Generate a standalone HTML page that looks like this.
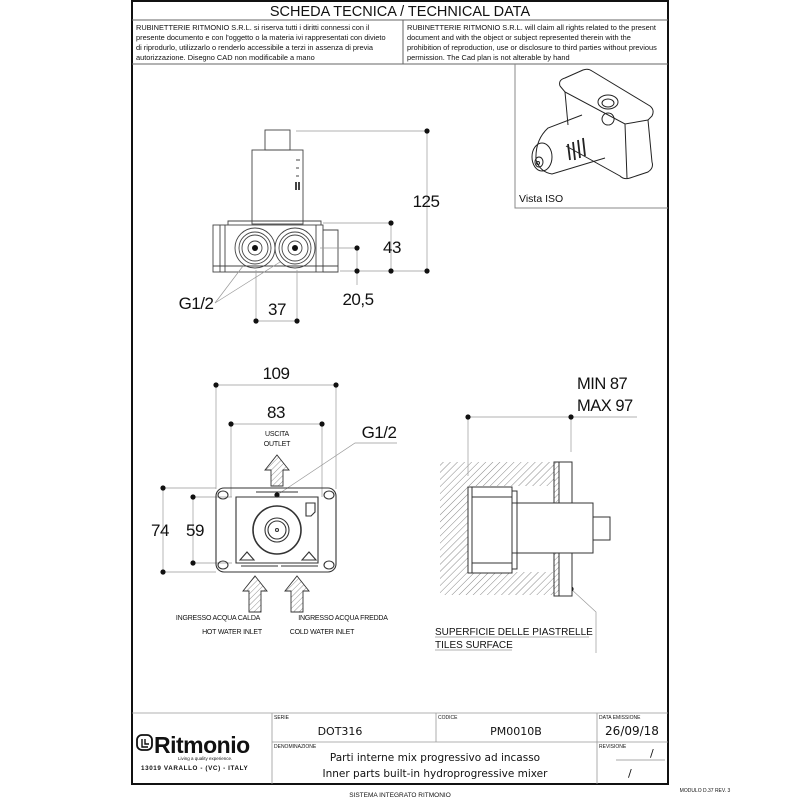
<!DOCTYPE html>
<html><head><meta charset="utf-8"><style>
html,body{margin:0;padding:0;background:#fff}
svg{display:block}
text{font-family:"Liberation Sans",sans-serif;fill:#111}
</style></head><body>
<svg width="800" height="800" viewBox="0 0 800 800" xmlns="http://www.w3.org/2000/svg">
<defs>
<pattern id="h" width="5" height="5" patternUnits="userSpaceOnUse" patternTransform="rotate(45)">
<line x1="0" y1="0" x2="0" y2="5" stroke="#888" stroke-width="1"/></pattern>
<pattern id="h2" width="4" height="4" patternUnits="userSpaceOnUse" patternTransform="rotate(45)">
<line x1="0" y1="0" x2="0" y2="4" stroke="#777" stroke-width="0.8"/></pattern>
</defs>
<!-- frame -->
<rect x="132" y="1" width="536" height="783" fill="none" stroke="#111" stroke-width="2"/>
<line x1="132" y1="20" x2="668" y2="20" stroke="#666"/>
<line x1="132" y1="64" x2="668" y2="64" stroke="#666"/>
<line x1="403" y1="20" x2="403" y2="64" stroke="#666"/>
<text x="400" y="16" font-size="14.5" text-anchor="middle">SCHEDA TECNICA / TECHNICAL DATA</text>
<g font-size="7.4">
<text x="136" y="30">RUBINETTERIE RITMONIO S.R.L. si riserva tutti i diritti connessi con il</text>
<text x="136" y="40">presente documento e con l'oggetto o la materia ivi rappresentati con divieto</text>
<text x="136" y="50">di riprodurlo, utilizzarlo o renderlo accessibile a terzi in assenza di previa</text>
<text x="136" y="60">autorizzazione. Disegno CAD non modificabile a mano</text>
<text x="407" y="30">RUBINETTERIE RITMONIO S.R.L. will claim all rights related to the present</text>
<text x="407" y="40">document and with the object or subject represented therein with the</text>
<text x="407" y="50">prohibition  of reproduction, use or disclosure to third parties without previous</text>
<text x="407" y="60">permission.  The Cad plan is not alterable by hand</text>
</g>
<!-- vista iso box -->
<polyline points="515,64 515,208 668,208" fill="none" stroke="#888"/>
<text x="519" y="202" font-size="10.5">Vista ISO</text>
<g fill="none" stroke="#222" stroke-width="1">
<path d="M560,86 Q558,80 565,78 L583,70 Q588,68 592,71 L650,106 Q655,110 652,116 L648,120 L652,162 Q654,168 648,172 L630,178 Q624,180 620,176 L566,146"/>
<path d="M560,86 L565,92 L625,124 L648,120 M625,124 L627,178"/>
<path d="M565,92 L568,125"/>
<ellipse cx="608" cy="102" rx="10" ry="7"/><ellipse cx="608" cy="103" rx="6" ry="4"/>
<path d="M582,115 L548,128 Q535,140 536,160 Q540,172 552,174 L605,158"/>
<ellipse cx="542" cy="157" rx="10" ry="14"/>
<ellipse cx="539" cy="162" rx="4" ry="5"/>
<circle cx="538" cy="163" r="1.5"/>
<path d="M568,144 l2,16 M573,142 l2,18 M578,140 l2,18 M583,138 l2,18" stroke-width="1.8"/>
<path d="M608,125 a6,6 0 1 1 0.1,0"/>
</g>
<!-- top elevation -->
<g fill="none" stroke="#444" stroke-width="0.9">
<rect x="265" y="130" width="25" height="20"/>
<rect x="252" y="150" width="51" height="74"/>
<path d="M296,160h4 M296,168h3 M296,176h3"/>
<path d="M296,182v8 M299,182v8" stroke-width="2"/>
<rect x="213" y="225" width="110" height="47"/>
<path d="M228,225v-4h93v4 M323,230h15v42h-15 M220,225v47 M225,225v47 M316,225v47 M213,266h125"/>
<circle cx="255" cy="248" r="20"/><circle cx="255" cy="248" r="16"/><circle cx="255" cy="248" r="13"/><circle cx="255" cy="248" r="7"/>
<circle cx="295" cy="248" r="20"/><circle cx="295" cy="248" r="16"/><circle cx="295" cy="248" r="13"/><circle cx="295" cy="248" r="7"/>
</g>
<circle cx="255" cy="248" r="3" fill="#111"/><circle cx="295" cy="248" r="3" fill="#111"/>
<g stroke="#999" stroke-width="0.7" fill="none">
<line x1="296" y1="131" x2="427" y2="131"/><line x1="427" y1="131" x2="427" y2="271"/>
<line x1="323" y1="223" x2="391" y2="223"/><line x1="391" y1="223" x2="391" y2="271"/>
<line x1="340" y1="271" x2="427" y2="271"/>
<line x1="320" y1="248" x2="357" y2="248"/><line x1="357" y1="248" x2="357" y2="285"/>
<line x1="256" y1="270" x2="256" y2="321"/><line x1="297" y1="270" x2="297" y2="321"/><line x1="256" y1="321" x2="297" y2="321"/>
<polyline points="215,303 243,266"/><polyline points="215,303 280,262"/>
</g>
<g fill="#111"><circle cx="427" cy="131" r="2.6"/><circle cx="427" cy="271" r="2.6"/><circle cx="391" cy="223" r="2.6"/><circle cx="391" cy="271" r="2.6"/><circle cx="357" cy="248" r="2.6"/><circle cx="357" cy="271" r="2.6"/><circle cx="256" cy="321" r="2.6"/><circle cx="297" cy="321" r="2.6"/></g>
<g font-size="17" text-anchor="middle" style="letter-spacing:-0.5px">
<text x="426" y="207">125</text><text x="392" y="253">43</text><text x="358" y="305">20,5</text><text x="277" y="315">37</text><text x="196" y="309">G1/2</text>
</g>
<!-- front view -->
<g stroke="#999" stroke-width="0.7" fill="none">
<line x1="216" y1="385" x2="336" y2="385"/><line x1="216" y1="385" x2="216" y2="489"/><line x1="336" y1="385" x2="336" y2="489"/>
<line x1="231" y1="424" x2="322" y2="424"/><line x1="231" y1="424" x2="231" y2="497"/><line x1="322" y1="424" x2="322" y2="497"/>
<line x1="163" y1="488" x2="216" y2="488"/><line x1="163" y1="572" x2="216" y2="572"/><line x1="163" y1="488" x2="163" y2="572"/>
<line x1="193" y1="497" x2="232" y2="497"/><line x1="193" y1="563" x2="232" y2="563"/><line x1="193" y1="497" x2="193" y2="563"/>
<polyline points="277,495 355,443 397,443"/>
</g>
<g fill="#111"><circle cx="216" cy="385" r="2.6"/><circle cx="336" cy="385" r="2.6"/><circle cx="231" cy="424" r="2.6"/><circle cx="322" cy="424" r="2.6"/><circle cx="163" cy="488" r="2.6"/><circle cx="163" cy="572" r="2.6"/><circle cx="193" cy="497" r="2.6"/><circle cx="193" cy="563" r="2.6"/><circle cx="277" cy="495" r="2.6"/></g>
<g font-size="17" text-anchor="middle" style="letter-spacing:-0.5px">
<text x="276" y="379">109</text><text x="276" y="418">83</text><text x="379" y="438">G1/2</text><text x="160" y="536">74</text><text x="195" y="536">59</text>
</g>
<g font-size="7" text-anchor="middle" style="letter-spacing:-0.2px"><text x="277" y="436">USCITA</text><text x="277" y="446">OUTLET</text>
<text x="218" y="620">INGRESSO ACQUA CALDA</text><text x="232" y="634">HOT WATER INLET</text>
<text x="343" y="620">INGRESSO ACQUA FREDDA</text><text x="322" y="634">COLD WATER INLET</text></g>
<g fill="none" stroke="#333" stroke-width="1.1">
<path d="M224,488 H328 a8,8 0 0 1 8,8 V564 a8,8 0 0 1 -8,8 H224 a8,8 0 0 1 -8,-8 V496 a8,8 0 0 1 8,-8 Z"/>
<path d="M236,497 H318 V563 H236 Z"/>
<ellipse cx="223" cy="495" rx="5" ry="4"/><ellipse cx="329" cy="495" rx="5" ry="4"/><ellipse cx="223" cy="565" rx="5" ry="4"/><ellipse cx="329" cy="565" rx="5" ry="4"/>
<circle cx="277" cy="530" r="24" stroke-width="1.6"/><circle cx="277" cy="530" r="12"/><circle cx="277" cy="530" r="9"/><circle cx="277" cy="530" r="1.5"/>
<path d="M256,492h42 M241,566h37 M281,566h37"/>
<path d="M306,503h9v9l-4,4h-5z"/>
<path d="M240,560l7,-8 7,8z M302,560l7,-8 7,8z"/>
</g>
<g stroke="#333" stroke-width="0.9" fill="url(#h2)">
<path d="M271,486 V470 H265 L277,455 289,470 H283 V486 Z"/>
<path d="M249,612 V591 H243 L255,576 267,591 H261 V612 Z"/>
<path d="M291,612 V591 H285 L297,576 309,591 H303 V612 Z"/>
</g>
<!-- side view -->
<path d="M440,462 H554 V595 H440 Z M468,486 V572 H554 V486 Z" fill="url(#h)" fill-rule="evenodd" stroke="none"/>
<g stroke="#999" stroke-width="0.7" fill="none">
<line x1="468" y1="417" x2="637" y2="417"/><line x1="468" y1="417" x2="468" y2="476"/><line x1="571" y1="417" x2="571" y2="452"/>
<polyline points="571,589 596,612 596,653"/>
<line x1="435" y1="637" x2="589" y2="637"/><line x1="435" y1="650" x2="512" y2="650"/>
</g>
<g fill="#111"><circle cx="468" cy="417" r="2.6"/><circle cx="571" cy="417" r="2.6"/><circle cx="571" cy="589" r="2.6"/></g>
<g font-size="16.5" style="letter-spacing:-0.5px"><text x="577" y="389">MIN 87</text><text x="577" y="411">MAX 97</text></g>
<g font-size="10"><text x="435" y="635">SUPERFICIE DELLE PIASTRELLE</text><text x="435" y="648">TILES SURFACE</text></g>
<g fill="#fff" stroke="#333" stroke-width="1">
<rect x="554" y="462" width="18" height="41" /><rect x="554" y="553" width="18" height="43"/>
<rect x="468" y="487" width="44" height="86"/>
<rect x="512" y="503" width="81" height="50"/>
<rect x="593" y="517" width="17" height="23"/>
</g>
<rect x="554" y="462" width="5" height="41" fill="url(#h2)" stroke="#333"/><rect x="554" y="553" width="5" height="43" fill="url(#h2)" stroke="#333"/>
<path d="M472,497h40 M472,563h40 M472,487v86 M512,491h5v78h-5" fill="none" stroke="#333"/>
<!-- title block -->
<g stroke="#999" stroke-width="0.8">
<line x1="132" y1="713" x2="668" y2="713"/>
<line x1="272" y1="713" x2="272" y2="784"/><line x1="272" y1="742" x2="668" y2="742"/>
<line x1="436" y1="713" x2="436" y2="742"/><line x1="597" y1="713" x2="597" y2="784"/>
</g>
<g font-size="5"><text x="274" y="719" fill="#aaa">SERIE</text><text x="438" y="719" fill="#aaa">CODICE</text><text x="599" y="719" fill="#aaa">DATA EMISSIONE</text><text x="274" y="748" fill="#aaa">DENOMINAZIONE</text><text x="599" y="748" fill="#aaa">REVISIONE</text></g>
<g>
<text x="340" y="735" font-size="11" text-anchor="middle" style="font-family:'DejaVu Sans',sans-serif">DOT316</text>
<text x="516" y="735" font-size="11" text-anchor="middle" style="font-family:'DejaVu Sans',sans-serif">PM0010B</text>
<text x="632" y="735" font-size="12" text-anchor="middle" style="font-family:'DejaVu Sans',sans-serif">26/09/18</text>
<text x="435" y="761" font-size="10.5" text-anchor="middle" style="font-family:'DejaVu Sans',sans-serif">Parti interne mix progressivo ad incasso</text>
<text x="435" y="777" font-size="10.5" text-anchor="middle" style="font-family:'DejaVu Sans',sans-serif">Inner parts built-in hydroprogressive mixer</text>
<text x="650" y="757" font-size="11" style="font-family:'DejaVu Sans',sans-serif">/</text>
<text x="628" y="777" font-size="11" style="font-family:'DejaVu Sans',sans-serif">/</text>
</g>
<line x1="616" y1="760" x2="665" y2="760" stroke="#555" stroke-width="0.6"/>
<rect x="137" y="735" width="15" height="15" rx="5" fill="none" stroke="#111" stroke-width="1.8"/>
<path d="M142,739v8h6 M145,739v5h4" fill="none" stroke="#111" stroke-width="1.4"/>
<text x="154" y="753" font-size="23" font-weight="bold" style="letter-spacing:-0.5px">Ritmonio</text>
<text x="178" y="760" font-size="4.5">Living a quality experience.</text>
<text x="141" y="770" font-size="6.3" font-weight="bold" style="letter-spacing:0.6px">13019 VARALLO - (VC) - ITALY</text>
<text x="400" y="797" font-size="6.5" text-anchor="middle">SISTEMA INTEGRATO RITMONIO</text>
<text x="705" y="792" font-size="5" text-anchor="middle">MODULO D.37 REV. 3</text>
</svg>
</body></html>
